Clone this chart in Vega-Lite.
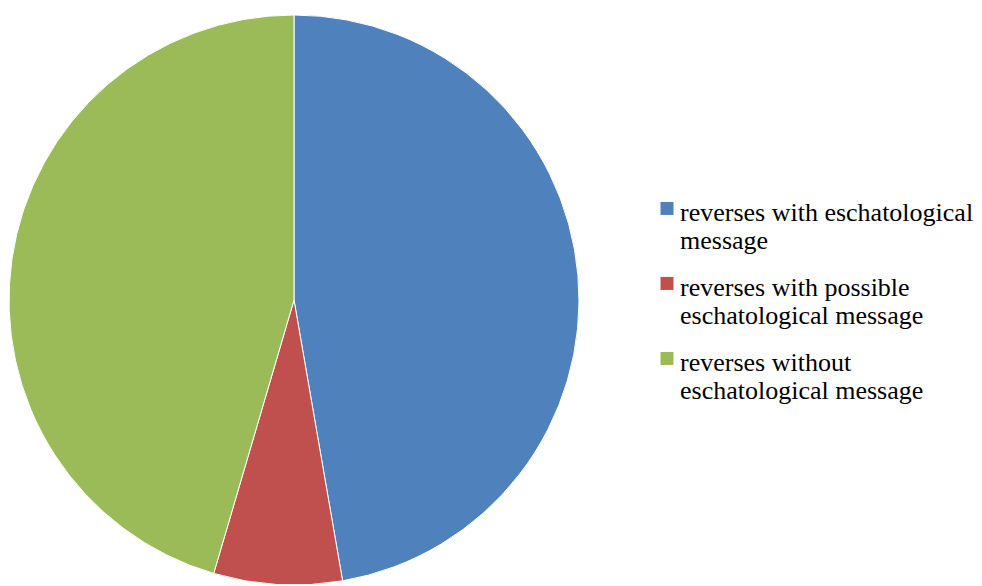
{
  "$schema": "https://vega.github.io/schema/vega-lite/v6.json",
  "width": 570,
  "height": 570,
  "autosize": {"type": "none"},
  "padding": {"left": 9, "top": 15, "right": 403, "bottom": 1},
  "background": "white",
  "data": {
    "values": [
      {"category": "reverses with eschatological|message", "count": 26, "order": 1},
      {"category": "reverses with possible|eschatological message", "count": 4, "order": 2},
      {"category": "reverses without|eschatological message", "count": 25, "order": 3}
    ]
  },
  "mark": {"type": "arc", "stroke": "white", "strokeWidth": 1},
  "encoding": {
    "theta": {"field": "count", "type": "quantitative", "stack": true},
    "order": {"field": "order", "type": "ordinal"},
    "color": {
      "field": "category",
      "type": "nominal",
      "sort": {"field": "order"},
      "scale": {
        "domain": [
          "reverses with eschatological|message",
          "reverses with possible|eschatological message",
          "reverses without|eschatological message"
        ],
        "range": ["#4F81BD", "#C0504D", "#9BBB59"]
      },
      "legend": {
        "title": null,
        "orient": "none",
        "legendX": 645,
        "legendY": 172,
        "padding": 0,
        "symbolType": "M-1,0.3H1V2.3H-1Z",
        "symbolSize": 169,
        "symbolStrokeWidth": 0,
        "labelExpr": "split(datum.label, '|')",
        "labelFont": "Liberation Serif",
        "labelFontSize": 26,
        "labelColor": "black",
        "labelLimit": 400,
        "labelOffset": 0,
        "labelBaseline": "top",
        "labelLineHeight": 29,
        "rowPadding": 8
      }
    }
  }
}
